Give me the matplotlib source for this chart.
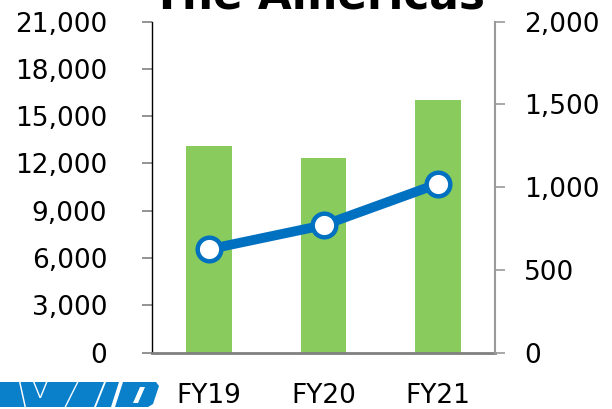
import matplotlib
matplotlib.use("Agg")
import matplotlib.pyplot as plt
from matplotlib.patches import Polygon

categories = ["FY19", "FY20", "FY21"]
bar_values = [13100, 12350, 16000]
line_values = [625, 770, 1020]
left_ticks = [0, 3000, 6000, 9000, 12000, 15000, 18000, 21000]
right_ticks = [0, 500, 1000, 1500, 2000]
title = "The Americas"

plt.rcParams['font.family'] = ['DejaVu Sans']

fig = plt.figure(figsize=(6.12, 4.09), dpi=100)
ax = fig.add_axes([152/612, 56.3/409, 343/612, 331.1/409])
x = list(range(len(categories)))
ax.bar(x, bar_values, width=0.4, color='#89CB5D', zorder=2)
ax.set_xlim(-0.5, 2.5)
ax.set_ylim(0, 21000)
ax.set_yticks(left_ticks)
ax.set_yticklabels([f"{v:,}" for v in left_ticks])
ax.set_xticks(x)
ax.set_xticklabels(categories)
ax.tick_params(axis='y', length=7.2, width=1.2, color='#808080', pad=25, labelsize=19)
ax.tick_params(axis='x', length=0, pad=22, labelsize=19)
for s in ['top', 'right']:
    ax.spines[s].set_visible(False)
ax.spines['left'].set_color('black')
ax.spines['left'].set_linewidth(1.0)
ax.spines['bottom'].set_color('#808080')
ax.spines['bottom'].set_linewidth(2.0)

ax2 = ax.twinx()
ax2.plot(x, line_values, color='#0070C0', lw=7, marker='o', markersize=17,
         markerfacecolor='white', markeredgecolor='#0070C0', markeredgewidth=3.2,
         solid_capstyle='round', zorder=3)
ax2.set_ylim(0, 2000)
ax2.set_yticks(right_ticks)
ax2.set_yticklabels([f"{v:,}" for v in right_ticks])
ax2.tick_params(axis='y', length=7.2, width=1.2, color='#999999', pad=13.5, labelsize=19)
for s in ['top', 'left', 'bottom']:
    ax2.spines[s].set_visible(False)
ax2.spines['right'].set_color('#999999')
ax2.spines['right'].set_linewidth(1.5)

fig.text(318/612, (409-8.5)/409, title, ha='center', va='baseline',
         fontsize=31.5, fontweight='bold')

# logo (decorative)
def P(pts, color):
    fig.patches.append(Polygon([(px/612, (409-py)/409) for px, py in pts],
                               closed=True, transform=fig.transFigure,
                               facecolor=color, edgecolor='none'))

blue = '#0A80CB'
P([(0, 382), (156, 382), (159, 386), (153, 404), (148, 407), (0, 407)], blue)
white = 'white'
stripes = [
    [(19, 382), (20.5, 382), (26, 407), (24.5, 407)],
    [(33, 382), (34.5, 382), (41, 398), (39.5, 398)],
    [(46, 382), (47.5, 382), (41, 398), (39.5, 398)],
    [(77, 382), (78.5, 382), (66, 407), (64.5, 407)],
    [(104, 382), (106, 382), (96, 407), (94, 407)],
    [(119, 382), (123, 382), (115, 407), (111, 407)],
    [(140, 387), (145, 387), (138, 403), (133, 403)],
]
for s in stripes:
    P(s, white)

fig.savefig("out.png", dpi=100)
